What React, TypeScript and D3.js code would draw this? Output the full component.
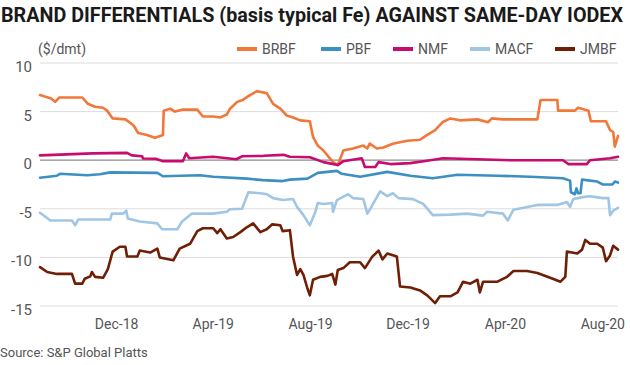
import React from "react"
import * as d3 from "d3"

// days counted from 27 Aug 2018, value in $/dmt
const startDate = new Date(2018, 7, 27)
const endDay = 724

const brbf: [number, number][] = [
	[0, 6.7], [14, 6.35], [19, 6.0], [24, 6.45], [53, 6.45], [60, 5.8], [69, 5.5], [79, 5.4], [84, 5.1],
	[91, 4.3], [107, 4.2], [117, 3.6], [123, 2.8], [134, 2.6], [144, 2.3], [154, 2.6], [155, 5.1], [163, 5.3],
	[169, 5.0], [178, 5.2], [197, 5.2], [204, 4.5], [217, 4.5], [226, 4.4], [234, 4.7], [238, 5.3], [247, 6.0],
	[254, 6.2], [263, 6.7], [272, 7.1], [284, 6.9], [292, 5.8], [301, 5.3], [309, 4.6], [317, 4.4], [326, 4.1],
	[338, 4.0], [342, 2.4], [348, 1.5], [355, 1.0], [367, -0.2], [373, -0.5], [380, 1.0], [392, 1.2], [405, 1.5],
	[410, 1.2], [413, 1.7], [422, 1.2], [430, 1.3], [442, 1.7], [460, 2.0], [476, 2.1], [485, 2.6], [495, 3.1],
	[504, 3.9], [514, 4.3], [526, 4.1], [548, 4.2], [561, 3.9], [566, 4.3], [580, 4.2], [623, 4.2], [627, 6.2],
	[648, 6.2], [649, 5.1], [670, 5.1], [674, 5.4], [687, 5.1], [690, 4.0], [709, 4.0], [714, 3.1], [718, 2.9],
	[720, 1.4], [724, 2.5],
]

const pbf: [number, number][] = [
	[0, -1.8], [21, -1.6], [25, -1.4], [59, -1.55], [75, -1.45], [88, -1.25], [147, -1.3], [154, -1.65],
	[200, -1.55], [217, -1.7], [259, -1.9], [279, -2.05], [304, -2.15], [313, -2.0], [335, -1.9], [348, -1.3],
	[372, -1.1], [378, -1.4], [401, -1.7], [435, -1.2], [464, -1.6], [492, -1.85], [523, -1.5], [573, -1.6],
	[614, -1.7], [655, -1.85], [664, -2.1], [665, -3.3], [670, -3.5], [672, -2.9], [674, -3.4], [677, -3.4],
	[679, -2.0], [698, -2.2], [705, -2.5], [717, -2.5], [720, -2.2], [724, -2.3],
]

const nmf: [number, number][] = [
	[0, 0.5], [66, 0.7], [109, 0.75], [115, 0.5], [128, 0.4], [129, 0.17], [145, 0.15], [154, -0.1],
	[179, -0.1], [183, 0.7], [187, 0.2], [217, 0.35], [246, 0.1], [253, 0.4], [280, 0.45], [305, 0.55],
	[313, 0.35], [338, 0.3], [355, -0.2], [373, -0.5], [380, -0.1], [403, 0.2], [407, -0.7], [420, -0.7],
	[424, -0.2], [439, -0.4], [464, -0.3], [489, 0.0], [505, 0.2], [548, 0.1], [589, 0.0], [655, 0.0],
	[662, -0.4], [685, -0.4], [689, 0.0], [714, 0.2], [724, 0.35],
]

const macf: [number, number][] = [
	[0, -5.4], [13, -6.2], [40, -6.2], [44, -6.7], [48, -6.1], [88, -6.1], [90, -5.5], [104, -5.5], [108, -5.2],
	[110, -6.0], [125, -6.3], [147, -6.5], [153, -7.1], [172, -7.1], [178, -6.3], [190, -5.5], [217, -5.5],
	[234, -5.3], [238, -5.05], [253, -5.0], [261, -3.3], [276, -3.4], [284, -3.5], [292, -3.9], [304, -4.1],
	[317, -4.0], [322, -4.8], [330, -5.65], [338, -6.7], [345, -5.3], [348, -4.4], [355, -4.5], [366, -4.4],
	[367, -5.3], [372, -4.1], [386, -3.5], [392, -3.9], [405, -4.0], [410, -5.5], [413, -5.1], [426, -3.2],
	[435, -3.7], [442, -3.4], [449, -3.9], [467, -4.0], [480, -4.5], [492, -5.65], [514, -5.6], [535, -5.5],
	[555, -5.7], [560, -5.3], [580, -5.5], [586, -6.2], [593, -5.1], [623, -4.6], [648, -4.6], [660, -4.3],
	[664, -4.8], [668, -4.0], [680, -3.8], [689, -3.7], [705, -3.9], [712, -3.9], [714, -5.65], [718, -5.2],
	[724, -4.9],
]

const jmbf: [number, number][] = [
	[0, -11.0], [9, -11.5], [21, -11.7], [40, -11.7], [44, -12.7], [53, -12.7], [56, -12.2], [63, -11.95],
	[65, -11.5], [69, -12.0], [79, -12.1], [85, -11.2], [91, -9.4], [100, -8.9], [107, -8.9], [109, -9.9],
	[122, -9.9], [125, -9.3], [138, -9.5], [147, -9.1], [150, -10.0], [167, -10.3], [175, -9.1], [188, -8.6],
	[197, -7.3], [204, -7.0], [217, -7.0], [222, -7.5], [226, -7.1], [234, -8.05], [242, -7.9], [251, -7.4],
	[259, -6.9], [267, -6.5], [276, -7.4], [284, -7.1], [291, -6.6], [301, -6.7], [304, -7.3], [313, -7.2],
	[317, -9.95], [322, -11.8], [326, -11.2], [330, -11.8], [335, -13.2], [338, -13.9], [342, -12.3],
	[351, -12.0], [360, -11.9], [366, -11.7], [370, -12.8], [373, -11.3], [380, -11.1], [388, -10.5],
	[401, -10.5], [407, -11.1], [416, -9.95], [424, -9.3], [429, -10.2], [435, -9.6], [447, -9.9], [451, -13.0],
	[464, -13.1], [476, -13.4], [485, -13.9], [495, -14.7], [501, -14.0], [514, -14.0], [523, -13.6],
	[530, -12.5], [539, -12.7], [548, -12.3], [551, -13.6], [555, -12.5], [573, -12.5], [585, -12.0],
	[593, -11.4], [610, -11.4], [623, -11.6], [639, -12.1], [652, -12.5], [658, -12.0], [660, -9.4],
	[673, -9.6], [679, -9.2], [683, -8.2], [689, -8.6], [698, -8.6], [705, -9.0], [709, -10.4], [714, -9.8],
	[718, -8.8], [724, -9.2],
]

const seriesNames = ["BRBF", "PBF", "NMF", "MACF", "JMBF"]
const seriesData = [brbf, pbf, nmf, macf, jmbf]
const seriesColors = ["#f2783a", "#3b8fc2", "#c90b6f", "#a0c6e4", "#6e1f05"]
const legendX = [237, 321, 393, 470, 555]

const yTicks = [10, 5, 0, -5, -10, -15]
const xTicks = [
	new Date(2018, 11, 1),
	new Date(2019, 3, 1),
	new Date(2019, 7, 1),
	new Date(2019, 11, 1),
	new Date(2020, 3, 1),
	new Date(2020, 7, 1),
]

const font = "Roboto, 'Noto Sans', sans-serif"

export default function App() {
	const width = 630
	const height = 365
	const margin = { left: 40, right: 12, top: 63, bottom: 59 }

	const x = d3
		.scaleTime()
		.domain([startDate, d3.timeDay.offset(startDate, endDay)])
		.range([margin.left, width - margin.right])
	const y = d3
		.scaleLinear()
		.domain([-15, 10])
		.range([height - margin.bottom, margin.top])

	const line = d3
		.line<[number, number]>()
		.x((d) => x(d3.timeDay.offset(startDate, d[0])))
		.y((d) => y(d[1]))

	return (
		<svg
			width={width}
			height={height}
			style={{ position: "absolute", left: 0, top: 0, background: "#fff" }}>
			<text
				x={1}
				y={22}
				fontFamily={font}
				fontWeight={700}
				fontSize={20}
				fill="#1a1a1a"
				textLength={622}
				lengthAdjust="spacingAndGlyphs">
				BRAND DIFFERENTIALS (basis typical Fe) AGAINST SAME-DAY IODEX
			</text>
			<text x={38} y={54} fontFamily={font} fontSize={14} fill="#555">
				($/dmt)
			</text>

			{/* legend */}
			{seriesNames.map((name, i) => (
				<g key={name} transform={`translate(${legendX[i]},0)`}>
					<line x1={0} x2={20} y1={49} y2={49} stroke={seriesColors[i]} strokeWidth={4} />
					<text x={25} y={54} fontFamily={font} fontSize={14} fill="#555">
						{name}
					</text>
				</g>
			))}

			{/* grid + y axis */}
			{yTicks.map((t) => (
				<g key={t}>
					<line
						x1={margin.left}
						x2={width - margin.right}
						y1={y(t)}
						y2={y(t)}
						stroke={t === 0 ? "#8c8c8c" : "#dcdcdc"}
						strokeWidth={t === 0 ? 1.2 : 1}
					/>
					<text
						x={32}
						y={y(t) + 9}
						textAnchor="end"
						fontFamily={font}
						fontSize={15}
						fill="#555">
						{t}
					</text>
				</g>
			))}

			{/* x axis labels */}
			{xTicks.map((d) => (
				<text
					key={d.toISOString()}
					x={x(d)}
					y={329}
					textAnchor="middle"
					fontFamily={font}
					fontSize={14}
					fill="#555">
					{d3.timeFormat("%b-%y")(d)}
				</text>
			))}

			{/* lines */}
			{seriesData.map((s, i) => (
				<path
					key={seriesNames[i]}
					d={line(s) || ""}
					fill="none"
					stroke={seriesColors[i]}
					strokeWidth={2.6}
					strokeLinejoin="round"
					strokeLinecap="round"
				/>
			))}

			<text x={0} y={357} fontFamily={font} fontSize={13} fill="#555">
				Source: S&amp;P Global Platts
			</text>
		</svg>
	)
}
